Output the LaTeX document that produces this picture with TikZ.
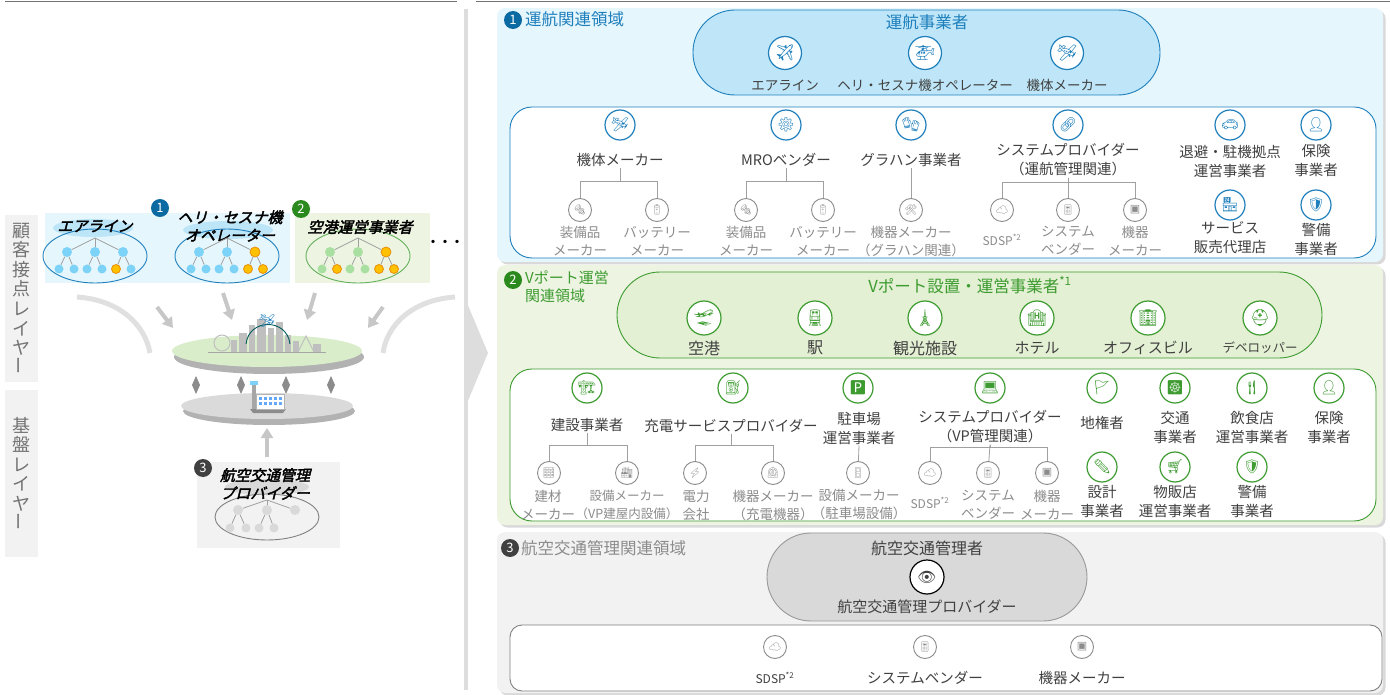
\documentclass[tikz,border=0pt]{standalone}
\usepackage{fontspec}
\setmainfont{Noto Sans CJK JP}
\newfontfamily\emo{Noto Emoji}
\newfontfamily\sym{DejaVu Sans}
\newfontfamily\jpit[FakeSlant=0.25,FakeBold=2.5]{Noto Sans CJK JP}
\usetikzlibrary{shadows,arrows.meta}

\definecolor{opblue}{HTML}{1E7FBC}
\definecolor{badgeblue}{HTML}{0B6AA2}
\definecolor{skyfill}{HTML}{E6F6FD}
\definecolor{skypill}{HTML}{BEE6F8}
\definecolor{skyhl}{HTML}{BDE5F8}
\definecolor{opgreen}{HTML}{3D9B30}
\definecolor{badgegreen}{HTML}{2B8A1D}
\definecolor{leaffill}{HTML}{EDF5E2}
\definecolor{leafpill}{HTML}{E3F0D3}
\definecolor{txtdark}{HTML}{404040}
\definecolor{subgray}{HTML}{8C8C8C}
\definecolor{linegray}{HTML}{A0A0A0}
\definecolor{ashfill}{HTML}{F2F2F2}
\definecolor{ashpill}{HTML}{D9D9D9}
\definecolor{sepgray}{HTML}{DDDDDD}
\definecolor{dotblue}{HTML}{7DD3F7}
\definecolor{dotgreen}{HTML}{A9DFA0}
\definecolor{dotorange}{HTML}{FFC000}
\definecolor{dotrim}{HTML}{E8900A}

\tikzset{
  area/.style={rounded corners=8pt, drop shadow={shadow xshift=2.5pt, shadow yshift=-2.5pt, opacity=0.3}},
  pill/.style={line width=0.9pt},
  inbox/.style={rounded corners=22pt, fill=white, line width=0.9pt},
  ico/.style={circle, fill=white, line width=1.2pt, minimum size=30pt, inner sep=0pt,
    font=\emo\fontsize{14}{14}\selectfont},
  icb/.style={ico, draw=opblue, text=opblue},
  icg/.style={ico, draw=opgreen, text=opgreen},
  subico/.style={circle, fill=white, draw=subgray, line width=0.9pt, minimum size=23pt,
    inner sep=0pt, text=subgray, font=\emo\fontsize{10}{10}\selectfont},
  lbl/.style={text=txtdark, font=\fontsize{14.5}{19}\selectfont, align=center, inner sep=1pt},
  sublbl/.style={text=subgray, font=\fontsize{13.5}{18}\selectfont, align=center, inner sep=1pt},
  tiny/.style={text=subgray, font=\fontsize{12}{14}\selectfont, inner sep=1pt},
  badge/.style={circle, inner sep=0pt, minimum size=18pt, text=white, font=\fontsize{13}{13}\selectfont},
  title/.style={font=\fontsize{16.5}{19}\selectfont, inner sep=1pt},
  twig/.style={draw=linegray, line width=0.8pt},
  tag/.style={font=\jpit\fontsize{15}{18}\selectfont, text=black, align=center, inner sep=0pt},
  dotb/.style={circle, fill=dotblue, inner sep=0pt, minimum size=10pt},
  dotg/.style={circle, fill=dotgreen, inner sep=0pt, minimum size=10pt},
  doto/.style={circle, fill=dotorange, draw=dotrim, line width=0.8pt, inner sep=0pt, minimum size=10pt},
  dotk/.style={circle, fill=ashpill, inner sep=0pt, minimum size=10pt},
  small/.style={minimum size=9pt},
  layer/.style={fill=ashfill, minimum width=33pt, inner sep=0pt, text=black!55,
    font=\fontsize{18}{19.6}\selectfont, align=center},
  feed/.style={draw=black!22, line width=4pt, -{Triangle[width=12pt,length=10pt]}},
  sweep/.style={draw=black!12, line width=5pt},
}

\begin{document}
\begin{tikzpicture}[x=1pt,y=-1pt]
\useasboundingbox (0,0) rectangle (1390,695);

% rules and the divider
\draw[black!55, line width=1.2pt] (5,1.5) -- (457,1.5);
\draw[black!55, line width=1.2pt] (476,1.5) -- (1390,1.5);
\draw[sepgray, line width=4pt] (465.5,9) -- (465.5,690);
\fill[sepgray] (467,303) -- (488,353) -- (467,403) -- cycle;

% ---------------- left: layers ----------------
\node[layer, minimum height=167pt] (upper) at (21.5,298.5)
  {顧\\客\\接\\点\\レ\\イ\\ヤ\\\rotatebox{90}{ー}};
\node[layer, minimum height=167pt] (lower) at (21.5,473.5)
  {基\\盤\\レ\\イ\\ヤ\\\rotatebox{90}{ー}};

\fill[skyfill] (45,213) rectangle (290,283);
\fill[leaffill] (295,213) rectangle (430,283);
\fill[skyhl] (93,228) ellipse [x radius=40, y radius=9];
\fill[skyhl] (228,230) ellipse [x radius=45, y radius=9];
\draw[opblue, line width=0.9pt] (95,256) ellipse [x radius=52, y radius=27];
\draw[opblue, line width=0.9pt] (227,256) ellipse [x radius=52, y radius=27];
\draw[opgreen!80, line width=0.9pt] (358,256) ellipse [x radius=52, y radius=27];

\node[tag] (air) at (95,226) {エアライン};
\node[tag] (heli) at (230,226) {ヘリ・セスナ機\\オペレーター};
\node[tag] (port) at (360,227) {空港運営事業者};
\node[badge, fill=badgeblue] (b1) at (160,208) {1};
\node[badge, fill=badgegreen] (b2) at (301,209) {2};
\node[font=\bfseries\fontsize{12}{12}\selectfont] (more) at (445,243) {・・・};

% airline tree
\coordinate (ta0) at (95,238);
\node[dotb] (ta1) at (67,252) {};
\node[dotb] (ta2) at (95,252) {};
\node[dotb] (ta3) at (123,252) {};
\node[dotb,small] (ta11) at (59,269) {};
\node[dotb,small] (ta12) at (74,269) {};
\node[dotb,small] (ta21) at (87,269) {};
\node[dotb,small] (ta22) at (102,269) {};
\node[doto,small] (ta31) at (116,269) {};
\node[dotb,small] (ta32) at (131,269) {};
% heli tree
\coordinate (th0) at (227,238);
\node[dotb] (th1) at (199,252) {};
\node[dotb] (th2) at (227,252) {};
\node[doto] (th3) at (255,252) {};
\node[dotb,small] (th11) at (191,269) {};
\node[dotb,small] (th12) at (206,269) {};
\node[dotb,small] (th21) at (219,269) {};
\node[dotb,small] (th22) at (234,269) {};
\node[doto,small] (th31) at (248,269) {};
\node[doto,small] (th32) at (263,269) {};
% airport tree
\coordinate (tp0) at (358,238);
\node[dotg] (tp1) at (330,252) {};
\node[dotg] (tp2) at (358,252) {};
\node[doto] (tp3) at (386,252) {};
\node[dotg,small] (tp11) at (322,269) {};
\node[doto,small] (tp12) at (337,269) {};
\node[dotg,small] (tp21) at (350,269) {};
\node[dotg,small] (tp22) at (365,269) {};
\node[doto,small] (tp31) at (379,269) {};
\node[doto,small] (tp32) at (394,269) {};
\begin{scope}[twig]
  \foreach \t in {ta,th,tp}{
    \draw (\t0) to (\t1); \draw (\t0) to (\t2); \draw (\t0) to (\t3);
    \draw (\t1) to (\t11); \draw (\t1) to (\t12);
    \draw (\t2) to (\t21); \draw (\t2) to (\t22);
    \draw (\t3) to (\t31); \draw (\t3) to (\t32);
  }
\end{scope}

% arrows into the city disk
\coordinate (f1s) at (157,307); \coordinate (f1e) at (173,328);
\coordinate (f2s) at (223,293); \coordinate (f2e) at (232,320);
\coordinate (f3s) at (315,293); \coordinate (f3e) at (307,320);
\coordinate (f4s) at (383,307); \coordinate (f4e) at (368,328);
\draw[feed] (f1s) -- (f1e);
\draw[feed] (f2s) -- (f2e);
\draw[feed] (f3s) -- (f3e);
\draw[feed] (f4s) -- (f4e);
\coordinate (w1s) at (77,297); \coordinate (w1e) at (150,353);
\coordinate (w2s) at (455,297); \coordinate (w2e) at (383,353);
\draw[sweep] (w1s) .. controls (120,300) and (145,325) .. (w1e);
\draw[sweep] (w2s) .. controls (412,300) and (387,325) .. (w2e);

% city disk
\fill[black!30] (269,357) ellipse [x radius=95, y radius=17];
\fill[leafpill!85!dotgreen] (267,351) ellipse [x radius=95, y radius=16];
\draw[black!25, line width=1pt] (222,343) circle [radius=8];
\foreach \a/\b/\h in {231/237/12,239/247/19,249/255/27,257/266/33,268/274/24,276/283/30,
                      285/291/17,293/299/11,313/321/8}
  \fill[black!25] (\a,352) rectangle (\b,{352-\h});
\draw[black!25, line width=1pt] (298,352) -- (306,336) -- (314,352);
\draw[black!35, line width=0.6pt] (208,352.5) -- (326,352.5);
\coordinate (arcl) at (246,344);
\coordinate (arcr) at (290,344);
\draw[teal!70!black, line width=0.9pt] (arcl) .. controls (249,318) and (287,318) .. (arcr);
\node[text=opblue, font=\emo\fontsize{13}{13}\selectfont] (plane) at (267,321) {🛩};

% links between the disks
\foreach \x in {196,241,286,331}
  \fill[black!45] (\x,376) -- ({\x+4},385) -- (\x,394) -- ({\x-4},385) -- cycle;

% base disk
\fill[black!30] (269,411) ellipse [x radius=86, y radius=14];
\fill[ashfill!90!black] (267,406) ellipse [x radius=86, y radius=13];
\fill[black!45] (250,409) -- (286,409) -- (283,413) -- (253,413) -- cycle;
\fill[white] (256,394) rectangle (284,409);
\draw[black!30] (256,394) rectangle (284,409);
\foreach \y in {397,402}
  \foreach \x in {259,264,269,274,279}
    \fill[dotblue!80!blue] (\x,\y) rectangle ({\x+3},{\y+3});
\fill[black!35] (252,384) rectangle (256,409);
\fill[dotblue] (250,381) rectangle (258,385);

\coordinate (upS) at (267,457);
\coordinate (upE) at (267,428);
\draw[feed] (upS) -- (upE);

% ATM provider card
\fill[ashfill] (197,462) rectangle (340,548);
\fill[ashpill] (267,487) ellipse [x radius=42, y radius=8];
\draw[black!50, line width=0.9pt] (267,517) ellipse [x radius=52, y radius=23];
\node[tag] (atm) at (265,484) {航空交通管理\\プロバイダー};
\node[badge, fill=txtdark] (b3) at (203,468) {3};
\coordinate (tg0) at (267,500);
\node[dotk] (tg1) at (238,510) {};
\node[dotk] (tg2) at (267,510) {};
\node[dotk] (tg3) at (295,510) {};
\node[dotk,small] (tg11) at (230,528) {};
\node[dotk,small] (tg12) at (246,528) {};
\node[dotk,small] (tg21) at (259,528) {};
\node[dotk,small] (tg22) at (274,528) {};
\begin{scope}[twig]
  \draw (tg0) to (tg1); \draw (tg0) to (tg2); \draw (tg0) to (tg3);
  \draw (tg1) to (tg11); \draw (tg1) to (tg12);
  \draw (tg2) to (tg21); \draw (tg2) to (tg22);
\end{scope}

% ---------------- right: 1 operations ----------------
\fill[skyfill, area] (497,8) rectangle (1383,262);
\node[badge, fill=badgeblue] (r1) at (513,20) {1};
\node[title, text=opblue, anchor=west] (r1t) at (524,19) {運航関連領域};
\draw[pill, draw=opblue, fill=skypill, rounded corners=42pt] (693,10) rectangle (1160,95);
\node[title, text=opblue] (opt) at (927,22) {運航事業者};
\node[icb, minimum size=33pt, font=\emo\fontsize{16}{16}\selectfont] (o1) at (785,53) {✈};
\node[icb, minimum size=33pt, font=\emo\fontsize{16}{16}\selectfont] (o2) at (925,53) {🚁};
\node[icb, minimum size=33pt, font=\emo\fontsize{16}{16}\selectfont] (o3) at (1067,53) {🛩};
\node[lbl, font=\fontsize{13.5}{17}\selectfont] (o1l) at (785,85) {エアライン};
\node[lbl, font=\fontsize{13.5}{17}\selectfont] (o2l) at (925,85) {ヘリ・セスナ機オペレーター};
\node[lbl, font=\fontsize{13.5}{17}\selectfont] (o3l) at (1067,85) {機体メーカー};

\draw[inbox, draw=opblue] (510,107) rectangle (1376,258);
% airframe makers
\node[icb] (mk) at (620,125) {🛩};
\node[lbl] (mkl) at (620,160) {機体メーカー};
\node[subico] (mk1) at (580,210) {🔩};
\node[subico] (mk2) at (657,210) {🔋};
\node[sublbl] (mk1l) at (580,241) {装備品\\メーカー};
\node[sublbl] (mk2l) at (657,241) {バッテリー\\メーカー};
% MRO
\node[icb] (mro) at (786,125) {⚙};
\node[lbl] (mrol) at (786,160) {MROベンダー};
\node[subico] (mro1) at (746,210) {🔩};
\node[subico] (mro2) at (823,210) {🔋};
\node[sublbl] (mro1l) at (746,241) {装備品\\メーカー};
\node[sublbl] (mro2l) at (823,241) {バッテリー\\メーカー};
% ground handling
\node[icb] (gh) at (911,125) {🧤};
\node[lbl] (ghl) at (911,160) {グラハン事業者};
\node[subico] (gh1) at (911,210) {🛠};
\node[sublbl] (gh1l) at (911,241) {機器メーカー\\（グラハン関連）};
% system provider
\node[icb] (sp) at (1068,125) {🔗};
\node[lbl] (spl) at (1068,160) {システムプロバイダー\\（運航管理関連）};
\node[subico] (sp1) at (1002,210) {☁};
\node[subico] (sp2) at (1068,210) {🎚};
\node[subico, font=\sym\fontsize{11}{11}\selectfont] (sp3) at (1135,210) {▣};
\node[tiny] (sp1l) at (1002,240) {SDSP\textsuperscript{*2}};
\node[sublbl] (sp2l) at (1068,241) {システム\\ベンダー};
\node[sublbl] (sp3l) at (1135,241) {機器\\メーカー};
% others
\node[icb] (pk) at (1230,125) {🚗};
\node[lbl] (pkl) at (1230,161) {退避・駐機拠点\\運営事業者};
\node[icb] (ins) at (1316,125) {👤};
\node[lbl] (insl) at (1316,161) {保険\\事業者};
\node[icb] (ag) at (1230,205) {🏪};
\node[lbl] (agl) at (1230,238) {サービス\\販売代理店};
\node[icb] (sec) at (1316,205) {🛡};
\node[lbl] (secl) at (1316,239) {警備\\事業者};
\begin{scope}[twig]
  \draw (mkl.south) -- ++(0,14) -| (mk1);
  \draw (mkl.south) -- ++(0,14) -| (mk2);
  \draw (mrol.south) -- ++(0,14) -| (mro1);
  \draw (mrol.south) -- ++(0,14) -| (mro2);
  \draw (ghl.south) -- (gh1);
  \draw (spl.south) -- ++(0,5) -| (sp1);
  \draw (spl.south) -- (sp2);
  \draw (spl.south) -- ++(0,5) -| (sp3);
\end{scope}

% ---------------- right: 2 vertiport ----------------
\fill[leaffill, area] (497,265) rectangle (1383,525);
\node[badge, fill=badgegreen] (r2) at (513,280) {2};
\node[title, text=opgreen, anchor=north west, align=left, font=\fontsize{15}{18}\selectfont]
  (r2t) at (524,270) {Vポート運営\\関連領域};
\draw[pill, draw=opgreen, fill=leafpill, rounded corners=43pt] (617,272) rectangle (1322,358);
\node[title, text=opgreen] (vpt) at (970,285) {Vポート設置・運営事業者\textsuperscript{*1}};
\node[icg, minimum size=34pt, font=\emo\fontsize{16}{16}\selectfont] (v1) at (704,318) {🛫};
\node[icg, minimum size=34pt, font=\emo\fontsize{16}{16}\selectfont] (v2) at (815,318) {🚆};
\node[icg, minimum size=34pt, font=\emo\fontsize{16}{16}\selectfont] (v3) at (925,318) {🗼};
\node[icg, minimum size=34pt, font=\emo\fontsize{16}{16}\selectfont] (v4) at (1037,318) {🏨};
\node[icg, minimum size=34pt, font=\emo\fontsize{16}{16}\selectfont] (v5) at (1148,318) {🏢};
\node[icg, minimum size=34pt, font=\emo\fontsize{16}{16}\selectfont] (v6) at (1260,318) {⛑};
\node[lbl, font=\fontsize{16}{18}\selectfont] (v1l) at (704,348) {空港};
\node[lbl, font=\fontsize{16}{18}\selectfont] (v2l) at (815,348) {駅};
\node[lbl, font=\fontsize{16}{18}\selectfont] (v3l) at (925,348) {観光施設};
\node[lbl, font=\fontsize{15}{18}\selectfont] (v4l) at (1037,348) {ホテル};
\node[lbl, font=\fontsize{15}{18}\selectfont] (v5l) at (1148,348) {オフィスビル};
\node[lbl, font=\fontsize{12.5}{15}\selectfont] (v6l) at (1260,348) {デベロッパー};

\draw[inbox, draw=opgreen] (510,369) rectangle (1376,521);
% construction
\node[icg] (cn) at (587,388) {🏗};
\node[lbl] (cnl) at (587,425) {建設事業者};
\node[subico] (cn1) at (549,473) {🧱};
\node[subico] (cn2) at (627,473) {🏭};
\node[sublbl] (cn1l) at (548,505) {建材\\メーカー};
\node[sublbl, font=\fontsize{12.5}{18}\selectfont] (cn2l) at (627,505) {設備メーカー\\（VP建屋内設備）};
% charging
\node[icg] (ch) at (733,388) {⛽};
\node[lbl] (chl) at (731,426) {充電サービスプロバイダー};
\node[subico] (ch1) at (695,473) {⚡};
\node[subico] (ch2) at (773,473) {⏲};
\node[sublbl] (ch1l) at (696,505) {電力\\会社};
\node[sublbl] (ch2l) at (773,505) {機器メーカー\\（充電機器）};
% parking
\node[icg] (pa) at (858,388) {🅿};
\node[lbl] (pal) at (859,428) {駐車場\\運営事業者};
\node[subico] (pa1) at (858,473) {🚪};
\node[sublbl] (pa1l) at (859,505) {設備メーカー\\（駐車場設備）};
% system provider (VP)
\node[icg] (vs) at (990,388) {💻};
\node[lbl] (vsl) at (990,427) {システムプロバイダー\\（VP管理関連）};
\node[subico] (vs1) at (930,473) {☁};
\node[subico] (vs2) at (988,473) {🎚};
\node[subico, font=\sym\fontsize{11}{11}\selectfont] (vs3) at (1047,473) {▣};
\node[tiny] (vs1l) at (930,503) {SDSP\textsuperscript{*2}};
\node[sublbl] (vs2l) at (988,505) {システム\\ベンダー};
\node[sublbl] (vs3l) at (1047,505) {機器\\メーカー};
% others
\node[icg] (la) at (1102,388) {🚩};
\node[lbl] (lal) at (1102,423) {地権者};
\node[icg] (tr) at (1175,388) {☸};
\node[lbl] (trl) at (1175,428) {交通\\事業者};
\node[icg] (fd) at (1252,388) {🍴};
\node[lbl] (fdl) at (1252,428) {飲食店\\運営事業者};
\node[icg] (vi) at (1329,388) {👤};
\node[lbl] (vil) at (1329,428) {保険\\事業者};
\node[icg] (ds) at (1102,467) {✏};
\node[lbl] (dsl) at (1102,502) {設計\\事業者};
\node[icg] (rt) at (1175,467) {🛒};
\node[lbl] (rtl) at (1175,502) {物販店\\運営事業者};
\node[icg] (gd) at (1252,467) {🛡};
\node[lbl] (gdl) at (1252,501) {警備\\事業者};
\begin{scope}[twig]
  \draw (cnl.south) -- ++(0,12) -| (cn1);
  \draw (cnl.south) -- ++(0,12) -| (cn2);
  \draw (chl.south) -- ++(0,11) -| (ch1);
  \draw (chl.south) -- ++(0,11) -| (ch2);
  \draw (pal.south) -- (pa1);
  \draw (vsl.south) -- ++(0,3) -| (vs1);
  \draw (vsl.south) -- (vs2);
  \draw (vsl.south) -- ++(0,3) -| (vs3);
\end{scope}

% ---------------- right: 3 air traffic ----------------
\fill[ashfill, area] (497,532) rectangle (1383,693);
\node[badge, fill=txtdark] (r3) at (510,548) {3};
\node[title, text=subgray, anchor=west] (r3t) at (520,548) {航空交通管理関連領域};
\draw[pill, draw=black!40, fill=ashpill, rounded corners=44pt] (767,533) rectangle (1087,621);
\node[lbl, font=\fontsize{16}{18}\selectfont] (amt) at (927,548) {航空交通管理者};
\node[ico, draw=black, text=txtdark, minimum size=34pt, font=\emo\fontsize{15}{15}\selectfont]
  (am) at (927,577) {👁};
\node[lbl, font=\fontsize{15}{18}\selectfont] (aml) at (927,607) {航空交通管理プロバイダー};
\draw[inbox, draw=black!50, rounded corners=12pt] (510,625) rectangle (1382,691);
\node[subico] (a1) at (775,647) {☁};
\node[subico] (a2) at (925,647) {🎚};
\node[subico, font=\sym\fontsize{11}{11}\selectfont] (a3) at (1082,647) {▣};
\node[tiny, text=txtdark] (a1l) at (775,678) {SDSP\textsuperscript{*2}};
\node[lbl] (a2l) at (925,678) {システムベンダー};
\node[lbl] (a3l) at (1082,678) {機器メーカー};
\end{tikzpicture}
\end{document}
